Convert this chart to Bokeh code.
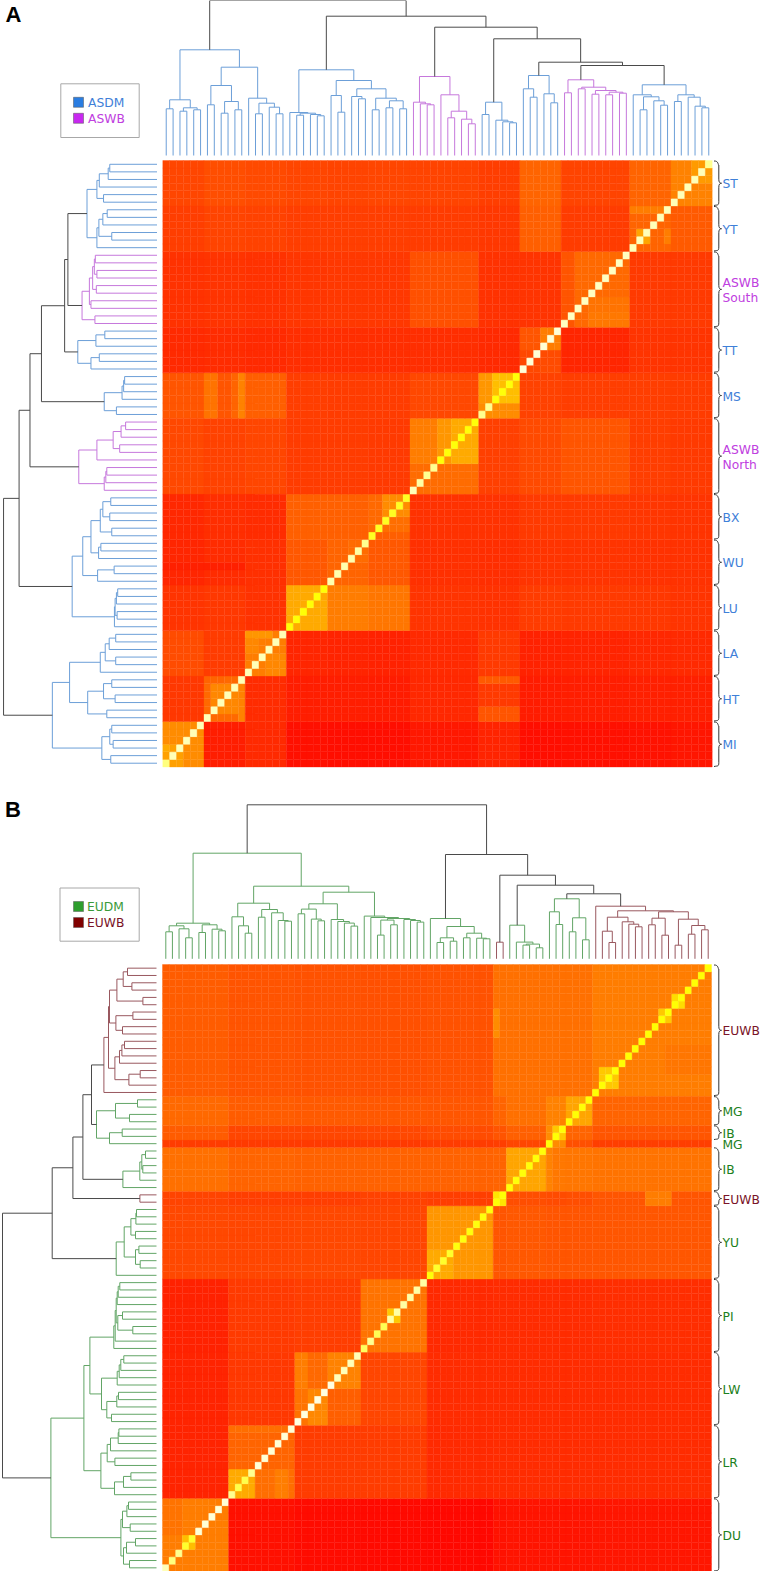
from bokeh.plotting import figure
from bokeh.models import ColumnDataSource, LinearColorMapper, Range1d
from bokeh.embed import file_html
from bokeh.resources import INLINE
from bokeh.core.properties import value
import numpy as np

# ---------------- PANEL A DATA ----------------
A_GROUPS = ["MI", "HT", "LA", "LU", "WU", "BX", "ASWB\nNorth", "MS", "TT", "ASWB\nSouth", "YT", "ST"]
A_SIZES = [6, 6, 6, 6, 6, 6, 10, 6, 6, 10, 6, 6]
A_CLASS = [0, 0, 0, 0, 0, 0, 1, 0, 0, 1, 0, 0]
# co-ancestry level: row (bottom to top) by column (left to right)
A_LEVEL = [
    [140, 30, 42, 16, 14, 14, 24, 36, 14, 16, 18, 22],
    [56, 105, 44, 30, 30, 28, 40, 58, 28, 30, 32, 32],
    [76, 60, 125, 38, 36, 34, 42, 58, 34, 36, 40, 42],
    [52, 56, 50, 170, 125, 118, 52, 50, 60, 58, 56, 52],
    [38, 44, 48, 88, 100, 88, 48, 46, 52, 52, 50, 50],
    [40, 46, 44, 96, 96, 110, 50, 50, 58, 58, 54, 52],
    [72, 66, 70, 60, 60, 58, 130, 64, 74, 85, 62, 58],
    [85, 95, 95, 62, 60, 60, 72, 170, 66, 62, 62, 60],
    [42, 44, 42, 46, 46, 46, 46, 42, 90, 38, 52, 52],
    [50, 52, 50, 54, 56, 56, 80, 50, 52, 105, 58, 58],
    [62, 68, 66, 62, 62, 62, 60, 56, 95, 60, 100, 90],
    [70, 78, 74, 70, 68, 70, 68, 62, 100, 68, 100, 130],
]
# finer blocks: row from, row to, column from, column to, level
A_BLOCKS = [
    (77, 80, 77, 80, 155), (69, 71, 69, 71, 165), (69, 71, 73, 74, 125), (73, 74, 68, 73, 125),
    (58, 68, 58, 60, 85), (58, 60, 62, 68, 120), (60, 62, 62, 68, 115),
    (52, 55, 52, 55, 72), (55, 58, 55, 58, 125), (52, 55, 55, 58, 75), (55, 58, 52, 55, 85),
    (46, 48, 46, 52, 140), (48, 52, 46, 48, 150), (48, 52, 48, 52, 190),
    (36, 40, 36, 46, 108), (40, 46, 36, 40, 125), (40, 46, 40, 46, 170), (40, 46, 40, 42, 150),
    (33, 36, 32, 36, 140), (31, 36, 30, 32, 105), (30, 31, 30, 36, 95), (27, 30, 27, 30, 108),
    (15, 18, 12, 14, 135), (12, 15, 15, 18, 135), (17, 18, 12, 16, 150),
    (7, 11, 7, 11, 135), (6, 11, 11, 12, 130), (6, 7, 6, 7, 130), (11, 12, 6, 9, 100),
    (46, 52, 6, 8, 115), (46, 52, 8, 10, 85), (46, 52, 10, 11, 100), (46, 52, 11, 12, 130),
    (11, 12, 46, 52, 90), (6, 8, 46, 52, 85),
    (0, 3, 0, 3, 160), (2, 3, 0, 1, 170), (26, 27, 0, 12, 32),
]
A_DIAGONAL = [383, 440, 440, 440, 440, 440, 440, 440, 440, 440, 440, 440, 440, 440, 440, 440, 440, 440,
              262, 262, 262, 262, 262, 262, 430, 430, 430, 430, 420, 400, 290, 290, 290, 290, 290, 290,
              440, 420, 400, 400, 265, 265, 265, 265, 265, 265, 400, 400, 265, 265, 265, 265,
              470, 470, 470, 470, 470, 470, 450, 450, 450, 450, 450, 450, 450, 450, 450, 450,
              440, 440, 440, 440, 440, 440, 440, 440, 440, 440, 440, 400]

A_MI = [55.7, [46.7, 0, 1], [47.7, [44.3, 2, 3], [45.7, 4, 5]]]
A_HT = [70, [50.7, 6, 7], [54, [42.3, 8, 9], [45.7, 10, 11]]]
A_LA = [57.3, 12, [52.3, [41.7, 13, 14], [48.3, 15, [41.7, 16, 17]]]]
A_LU = [43, 18, [42.3, [40.3, 19, 20], [41, 21, [39.7, 22, 23]]]]
A_WU = [60, 24, [43.3, 25, 26]]
A_BX = [66.7, [59, 27, [56.7, 28, 29]], [57.3, [45.7, 30, 31], [54.7, [47.7, 32, 33], [46.7, 34, 35]]]]
A_AN = [79, [53.3, 36, [51.7, 37, [50.7, 38, 39]]], [60.7, 40, [44.3, [37.7, 41, 42], [36.3, 43, [31.7, 44, 45]]]]]
A_MS = [53.3, [41, 46, 47], [35.3, 48, [33.7, 49, [32.7, 50, 51]]]]
A_TT = [80, [66.7, 52, [58.3, 53, 54]], [61.7, 55, [52.7, 56, 57]]]
A_AS = [75.7, [62.7, 58, 59], [68.3, [66.7, 60, 61], [65, [61.3, 62, 63], [63.3, [60.7, 64, 65], [62.3, 66, 67]]]]]
A_YT = [60.7, 68, [58.7, [45.7, 69, 70], [54.7, 71, [50.3, 72, 73]]]]
A_ST = [60.7, [54, 74, 75], [58.3, 76, [49.3, 77, [47.7, 78, 79]]]]
A_TREE = [155,
          [105.7, A_MI, [88.3, A_HT, A_LA]],
          [139.3,
           [85.7, A_LU, [75, A_WU, A_BX]],
           [128.3, A_AN,
            [116.7, A_MS,
             [93.3, A_TT, [90, A_AS, [70.7, A_YT, A_ST]]]]]]]

# ---------------- PANEL B DATA ----------------
B_GROUPS = ["DU", "LR", "LW", "PI", "YU", "EUWB", "IB", "MG", "IB", "MG", "EUWB"]
B_SIZES = [10, 10, 10, 10, 10, 2, 6, 1, 2, 4, 18]
B_CLASS = [2, 2, 2, 2, 2, 3, 2, 2, 2, 2, 3]
B_BRACED = [1, 1, 1, 1, 1, 1, 1, 0, 1, 1, 1]
B_LEVEL = [
    [125, 16, 12, 10, 8, 18, 20, 20, 20, 20, 22],
    [36, 100, 60, 60, 42, 44, 44, 44, 44, 44, 44],
    [36, 56, 105, 70, 44, 44, 44, 44, 44, 44, 44],
    [34, 58, 62, 115, 42, 44, 44, 44, 44, 44, 46],
    [72, 70, 72, 70, 150, 85, 88, 85, 85, 85, 86],
    [68, 62, 62, 66, 62, 230, 78, 75, 75, 78, 85],
    [112, 100, 98, 98, 98, 100, 165, 130, 120, 118, 115],
    [60, 58, 58, 58, 60, 62, 70, 260, 140, 80, 62],
    [92, 70, 70, 72, 76, 84, 96, 140, 200, 100, 85],
    [105, 92, 90, 88, 86, 100, 112, 130, 130, 165, 100],
    [92, 84, 82, 80, 82, 112, 112, 112, 112, 112, 125],
]
B_BLOCKS = [
    (3, 5, 3, 5, 190), (5, 10, 0, 3, 115),
    (10, 14, 10, 14, 170), (10, 14, 14, 20, 110), (10, 14, 17, 19, 125), (19, 20, 10, 20, 110),
    (25, 30, 25, 30, 130), (25, 30, 20, 22, 125), (20, 25, 20, 25, 115), (20, 25, 22, 25, 135), (20, 25, 25, 30, 95),
    (34, 36, 34, 36, 200), (40, 44, 40, 44, 170),
    (73, 77, 50, 51, 140), (77, 79, 77, 79, 220), (75, 77, 75, 77, 200), (66, 69, 66, 69, 200), (81, 82, 81, 82, 180),
    (50, 52, 73, 77, 125), (68, 72, 76, 83, 118),
]
B_DIAGONAL = [440, 380, 400, 300, 300, 470, 470, 470, 470, 470, 400, 330, 330, 400, 470, 470, 470, 470, 470, 470,
              480, 480, 480, 480, 480, 480, 440, 440, 440, 440, 350, 400, 340, 340, 420, 420, 420, 420, 420, 420,
              265, 300, 300, 300, 270, 270, 270, 270, 270, 270, 260, 260, 265, 265, 265, 265, 265, 265,
              262, 262, 262, 262, 262, 262, 262, 260, 260, 260, 260, 260, 260, 260, 260, 260, 260, 260, 260, 260,
              260, 260, 260, 260, 262]

B_DU = [35.6, [33, [27, 0, 1], [30, 2, [21, 3, 4]]], [34, [26.3, 5, 6], [29.6, 7, [28, 8, 9]]]]
B_LR = [55.6, [42, 10, [33, 11, [25.6, 12, 13]]], [49.3, [41.6, 14, 15], [46, 16, [38.3, 17, [37.6, 18, 19]]]]]
B_LW = [55, [49.7, [45, 20, 21], [39.7, 22, [38, 23, 24]]], [39.3, 25, [37.3, 26, [35.7, 27, [32.7, 28, 29]]]]]
B_PI = [42.7, 30, [41.3, 31, [40.3, [38.7, [23.7, 32, 33], [34, 34, 35]], [39.3, 36, [38.3, 37, [36.7, 38, 39]]]]]]
B_YU = [40.3, 40, [32.3, [21, [16.3, 41, 42], [17.6, 43, 44]], [25.6, [21, 45, 46], [20.6, 47, [20, 48, 49]]]]]
B_E2 = [16.6, 50, 51]
B_IB = [33.6, 52, [16.7, 53, [14.7, [13.7, 54, 55], [11, 56, 57]]]]
B_G7 = [60, [47, 58, [34.3, 59, 60]], [41, [27, 61, 62], [19, 63, 64]]]
B_EU = [52.6, 65, [48, [41.6, [27.6, 66, [16.3, 67, 68]], [37, 69, [34.6, 70, [32, 71, 72]]]],
                   [47, [40.6, [34, 73, 74], [23.6, 75, 76]],
                    [39.6, [13.6, 77, 78], [33.3, [24.6, 79, 80], [29, 81, 82]]]]]]
B_TREE = [154,
          [105.6, B_DU, [72.6, B_LR, [66.6, B_LW, B_PI]]],
          [104.3, B_YU,
           [83.6, B_E2,
            [73.6, B_IB, [65, B_G7, B_EU]]]]]

# ---------------- STYLES ----------------
LINE_COLORS = {0: "#6c9fd8", 1: "#c678dc", 2: "#62a566", 3: "#99585f", None: "#4a4a4a"}
TEXT_COLORS = {0: "#3f80d8", 1: "#c040e0", 2: "#1c8020", 3: "#7a1428"}
BRACE_COLOR = "#333333"

W, H = 760, 1571
p = figure(width=W, height=H, x_range=Range1d(0, W), y_range=Range1d(H, 0),
           output_backend="svg", toolbar_location=None, min_border=0,
           background_fill_color="white", border_fill_color="white")
p.xaxis.visible = False
p.yaxis.visible = False
p.grid.visible = False
p.outline_line_color = None

# red -> yellow -> white
PALETTE = ["#ff%02x00" % g for g in range(256)] + ["#ffff%02x" % b for b in range(256)]
mapper = LinearColorMapper(palette=PALETTE, low=0, high=512)


def leaf_class(sizes, classes):
    out = []
    for s, c in zip(sizes, classes):
        out += [c] * s
    return out


def matrix(sizes, levels, blocks, diagonal):
    st = np.cumsum([0] + sizes)
    n = st[-1]
    m = np.zeros((n, n))
    for r in range(len(sizes)):
        for c in range(len(sizes)):
            m[st[r]:st[r + 1], st[c]:st[c + 1]] = levels[r][c]
    for r0, r1, c0, c1, v in blocks:
        m[r0:r1, c0:c1] = v
    m[np.arange(n), np.arange(n)] = diagonal
    return m


def draw_heat(m, x0, x1, y0, y1):
    n = m.shape[0]
    xe = np.linspace(x0, x1, n + 1)
    ye = np.linspace(y1, y0, n + 1)
    rr, cc = np.meshgrid(np.arange(n), np.arange(n), indexing="ij")
    r, c = rr.ravel(), cc.ravel()
    src = ColumnDataSource(dict(l=xe[c], r=xe[c + 1], b=ye[r], t=ye[r + 1], v=m[r, c]))
    p.quad(left="l", right="r", bottom="b", top="t", source=src,
           fill_color={"field": "v", "transform": mapper},
           line_color={"field": "v", "transform": mapper}, line_width=0.35)


def tree_segments(tree, classes, leaf_pos, base, scale):
    """Return (xs, ys, colors) for a dendrogram; pos along the leaf axis, height across it."""
    out = []

    def walk(node):
        if not isinstance(node, list):
            return leaf_pos(node), 0.0, {classes[node]}
        h, a, b = node
        pa, ha, ca = walk(a)
        pb, hb, cb = walk(b)
        cls = ca | cb
        col = LINE_COLORS[next(iter(cls))] if len(cls) == 1 else LINE_COLORS[None]
        out.append(([pa, pa, pb, pb], [base - ha * scale, base - h * scale, base - h * scale, base - hb * scale], col))
        return (pa + pb) / 2, h, cls

    walk(tree)
    return out


def draw_tree(tree, classes, leaf_pos, base, scale, horizontal):
    seg = tree_segments(tree, classes, leaf_pos, base, scale)
    pos = [s[0] for s in seg]
    dist = [s[1] for s in seg]
    cols = [s[2] for s in seg]
    if horizontal:
        p.multi_line(xs=pos, ys=dist, line_color=cols, line_width=1)
    else:
        p.multi_line(xs=dist, ys=pos, line_color=cols, line_width=1)


def draw_brace(y0, y1, xa=713.5, xs=718.3, xt=721):
    m = (y0 + y1) / 2
    c = min(4.0, (y1 - y0) / 4)
    curves = [
        (xa, y0, xs, y0 + c, xs, y0 - 0.2, xs - 1, y0 + c),
        (xs, m - c, xt, m, xs, m - 1, xs + 1, m),
        (xt, m, xs, m + c, xs + 1, m, xs, m + 1),
        (xs, y1 - c, xa, y1, xs, y1 + 0.2, xs - 1, y1 - c * 0.2),
    ]
    for cv in curves:
        p.bezier(x0=[cv[0]], y0=[cv[1]], x1=[cv[2]], y1=[cv[3]], cx0=[cv[4]], cy0=[cv[5]], cx1=[cv[6]], cy1=[cv[7]],
                 line_color=BRACE_COLOR, line_width=1)
    p.segment(x0=[xs, xs], y0=[y0 + c, m + c], x1=[xs, xs], y1=[m - c, y1 - c], line_color=BRACE_COLOR, line_width=1)


def draw_labels(groups, sizes, classes, y0, y1, braced=None):
    n = sum(sizes)
    rh = (y1 - y0) / n
    st = np.cumsum([0] + sizes)
    for i, g in enumerate(groups):
        top = y1 - st[i + 1] * rh
        bot = y1 - st[i] * rh
        if braced is None or braced[i]:
            draw_brace(top + 0.5, bot - 0.5)
        lines = g.split("\n")
        mid = (top + bot) / 2 + 1
        for k, t in enumerate(lines):
            y = mid + (k - (len(lines) - 1) / 2) * 15
            p.text(x=[722], y=[y], text=[t], text_font=value("DejaVu Sans"), text_font_size="12.3px",
                   text_color=TEXT_COLORS[classes[i]], text_baseline="middle", text_align="left")


def panel(tree, sizes, classes, levels, blocks, diagonal, groups, braced, x0, x1, y0, y1, top_base, left_base, top_scale, left_scale):
    m = matrix(sizes, levels, blocks, diagonal)
    n = m.shape[0]
    draw_heat(m, x0, x1, y0, y1)
    lc = leaf_class(sizes, classes)
    cw = (x1 - x0) / n
    rh = (y1 - y0) / n
    draw_tree(tree, lc, lambda i: x0 + (i + .5) * cw, top_base, top_scale, True)
    draw_tree(tree, lc, lambda i: y1 - (i + .5) * rh, left_base, left_scale, False)
    draw_labels(groups, sizes, classes, y0, y1, braced)


panel(A_TREE, A_SIZES, A_CLASS, A_LEVEL, A_BLOCKS, A_DIAGONAL, A_GROUPS, None,
      162.3, 711.7, 160, 766.5, 155, 156.5, 1.0, 0.99)
panel(B_TREE, B_SIZES, B_CLASS, B_LEVEL, B_BLOCKS, B_DIAGONAL, B_GROUPS, B_BRACED,
      162, 711, 964, 1571, 958.3, 156, 1.0, 1.0)


def legend(x0, x1, y0, y1, names, colors, textcolors, sq_x, text_x):
    p.quad(left=[x0], right=[x1], top=[y0], bottom=[y1], fill_color="white", line_color="#a8a8a8", line_width=1)
    for k, (nm, c, tc) in enumerate(zip(names, colors, textcolors)):
        y = y0 + 18.5 + 16 * k
        p.quad(left=[sq_x], right=[sq_x + 10], top=[y - 5], bottom=[y + 5], fill_color=c, line_color="#555555",
               line_alpha=0.5, line_width=1)
        p.text(x=[text_x], y=[y + 0.5], text=[nm], text_font=value("DejaVu Sans"), text_font_size="12.3px",
               text_color=tc, text_baseline="middle", text_align="left")


legend(60.3, 138.7, 83.3, 137, ["ASDM", "ASWB"], ["#2a7de1", "#c828f0"], ["#3f80d8", "#c040e0"], 73, 87.5)
legend(59.5, 138.7, 887.5, 940.7, ["EUDM", "EUWB"], ["#2e9e2e", "#800000"], ["#3a9a3a", "#7a1428"], 73, 86.5)

for letter, x, y in (("A", 5, 14), ("B", 4.5, 809)):
    p.text(x=[x], y=[y], text=[letter], text_font=value("Liberation Sans"), text_font_style="bold",
           text_font_size="22px", text_color="black", text_baseline="middle", text_align="left")

open("out.html", "w").write(file_html(p, INLINE))
